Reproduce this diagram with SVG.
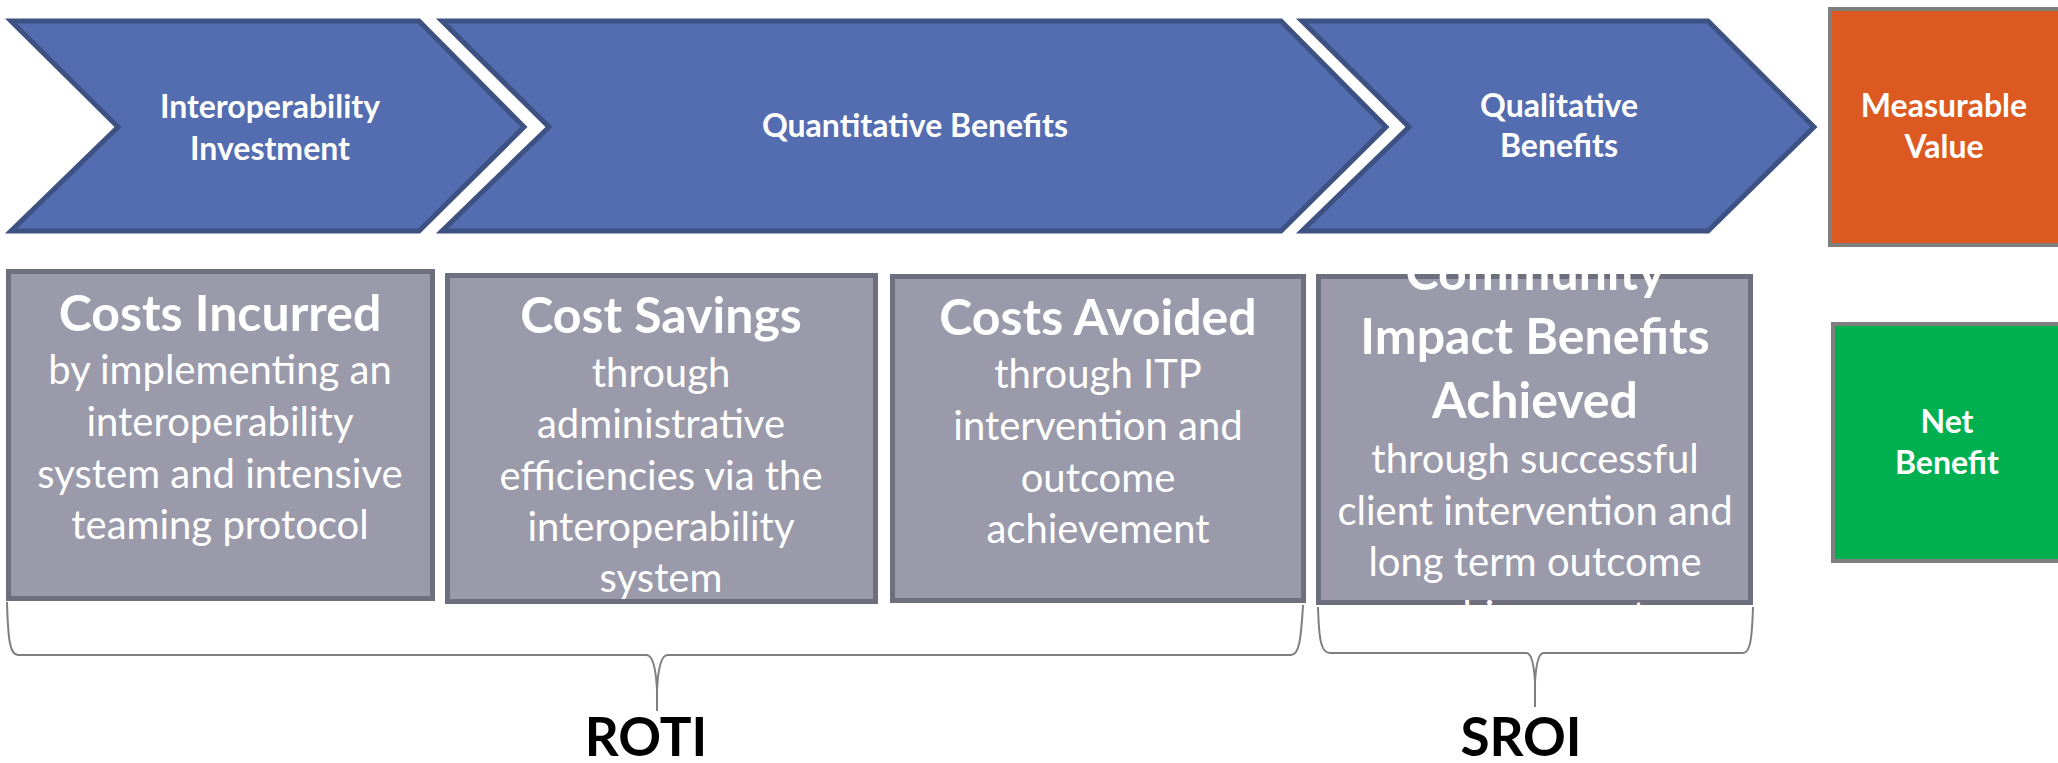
<svg xmlns="http://www.w3.org/2000/svg" width="2058" height="763" viewBox="0 0 2058 763">
<defs>
<style>
.chev{fill:#536db0;stroke:#3d5283;stroke-width:5;stroke-linejoin:miter}
.gbox{fill:#9a9aab;stroke:#6e6f7e;stroke-width:5}
.vbox{stroke:#7f7f7f;stroke-width:4}
.hd{font-family:Lato,"Liberation Sans",sans-serif;font-weight:bold;font-size:32px;fill:#ffffff;text-anchor:middle}
.tt{font-family:Lato,"Liberation Sans",sans-serif;font-weight:bold;font-size:50px;fill:#ffffff;text-anchor:middle}
.bd{font-family:Lato,"Liberation Sans",sans-serif;font-size:40px;fill:#ffffff;text-anchor:middle}
.lbl{font-family:Lato,"Liberation Sans",sans-serif;font-weight:bold;font-size:53px;fill:#000000;text-anchor:middle}
.brace{fill:none;stroke:#7f7f7f;stroke-width:2}
</style>
<clipPath id="clip4"><rect x="1300" y="272" width="470" height="341"/></clipPath>
</defs>
<rect width="2058" height="763" fill="#ffffff"/>

<g id="chevron-investment">
<path class="chev" d="M11,21 L419,21 L524,127 L419,231 L11,231 L118,127 Z"/>
<text class="hd" x="270" y="118">Interoperability</text>
<text class="hd" x="270" y="160">Investment</text>
</g>
<g id="chevron-quantitative">
<path class="chev" d="M442,21 L1281,21 L1386,127 L1281,231 L442,231 L549,127 Z"/>
<text class="hd" x="915" y="137">Quantitative Benefits</text>
</g>
<g id="chevron-qualitative">
<path class="chev" d="M1302,21 L1708,21 L1814,127 L1708,231 L1302,231 L1409,127 Z"/>
<text class="hd" x="1559" y="117">Qualitative</text>
<text class="hd" x="1559" y="157">Benefits</text>
</g>
<g id="measurable-value">
<rect class="vbox" x="1830" y="9" width="240" height="236" fill="#dc5a22"/>
<text class="hd" x="1944" y="117">Measurable</text>
<text class="hd" x="1944" y="158">Value</text>
</g>
<g id="net-benefit">
<rect class="vbox" x="1833" y="324" width="240" height="237" fill="#00b050"/>
<text class="hd" x="1947" y="433">Net</text>
<text class="hd" x="1947" y="474">Benefit</text>
</g>

<g id="costs-incurred">
<rect class="gbox" x="8.5" y="271.5" width="424" height="327"/>
<text class="tt" x="220" y="331">Costs Incurred</text>
<text class="bd" x="220" y="384">by implementing an</text>
<text class="bd" x="220" y="436">interoperability</text>
<text class="bd" x="220" y="488">system and intensive</text>
<text class="bd" x="220" y="539">teaming protocol</text>
</g>
<g id="cost-savings">
<rect class="gbox" x="447.5" y="275.5" width="428" height="326"/>
<text class="tt" x="661" y="333">Cost Savings</text>
<text class="bd" x="661" y="387">through</text>
<text class="bd" x="661" y="438">administrative</text>
<text class="bd" x="661" y="490">efficiencies via the</text>
<text class="bd" x="661" y="541">interoperability</text>
<text class="bd" x="661" y="592">system</text>
</g>
<g id="costs-avoided">
<rect class="gbox" x="892.5" y="276.5" width="411" height="324"/>
<text class="tt" x="1098" y="335">Costs Avoided</text>
<text class="bd" x="1098" y="388">through ITP</text>
<text class="bd" x="1098" y="440">intervention and</text>
<text class="bd" x="1098" y="492">outcome</text>
<text class="bd" x="1098" y="543">achievement</text>
</g>
<g id="community-impact">
<rect class="gbox" x="1318.5" y="276.5" width="432" height="326"/>
<g clip-path="url(#clip4)">
<text class="tt" x="1535" y="290">Community</text>
<text class="tt" x="1535" y="354">Impact Benefits</text>
<text class="tt" x="1535" y="418">Achieved</text>
<text class="bd" x="1535" y="473">through successful</text>
<text class="bd" x="1535" y="525">client intervention and</text>
<text class="bd" x="1535" y="576">long term outcome</text>
<text class="bd" x="1535" y="630">achievement</text>
</g>
</g>

<g id="connectors">
<path class="brace" d="M7,602 C8,640 10,655 18,655 L647,655 C653,656 656,670 657,690 L657,711 M657,690 C658,670 661,656 667,655 L1291,655 C1299,655 1301,640 1303,605"/>
<path class="brace" d="M1318,607 C1319,640 1321,653 1330,653 L1527,653 C1532,654 1534,665 1535,682 L1535,707 M1535,682 C1536,665 1538,654 1543,653 L1743,653 C1750,653 1752,640 1753,607"/>
</g>

<g id="label-roti">
<text class="lbl" x="646" y="756">ROTI</text>
</g>
<g id="label-sroi">
<text class="lbl" x="1521" y="756">SROI</text>
</g>
</svg>
